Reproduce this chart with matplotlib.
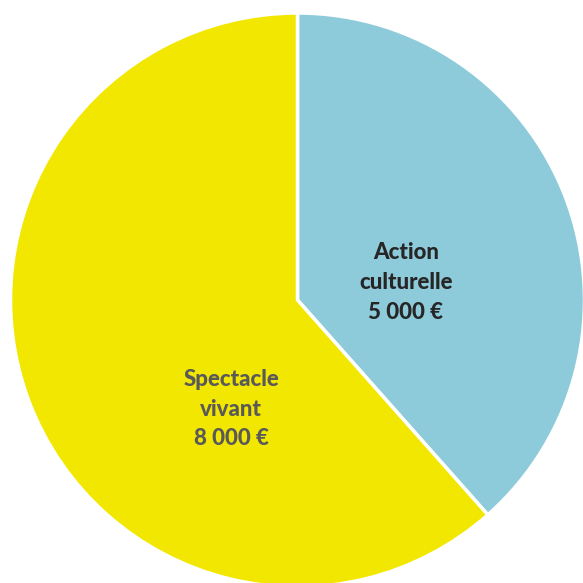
import matplotlib
matplotlib.use("Agg")
import matplotlib.pyplot as plt

categories = ["Action\nculturelle", "Spectacle\nvivant"]
values = [5000, 8000]
value_labels = ["5 000 €", "8 000 €"]
colors = ["#8ECBDA", "#F2E700"]
text_colors = ["#262626", "#595959"]
label_pos = [(0.378, 0.06), (-0.231, -0.38)]

fig = plt.figure(figsize=(5.83, 5.83), dpi=100)
ax = fig.add_axes([0, 0, 1, 1])
ax.pie(values, colors=colors, startangle=90, counterclock=False, radius=1.0,
       wedgeprops=dict(edgecolor="white", linewidth=2.5))
for cat, vl, tc, (x, y) in zip(categories, value_labels, text_colors, label_pos):
    ax.text(x, y, f"{cat}\n{vl}", ha="center", va="center", fontsize=16,
            fontweight="black", color=tc, family=["Lato", "DejaVu Sans"],
            linespacing=1.52)
ax.set_xlim(-297.5 / 287, (583 - 297.5) / 287)
ax.set_ylim(-(583 - 300) / 287, 300 / 287)
ax.set_aspect("equal")
ax.axis("off")
fig.savefig("out.png", dpi=100)
